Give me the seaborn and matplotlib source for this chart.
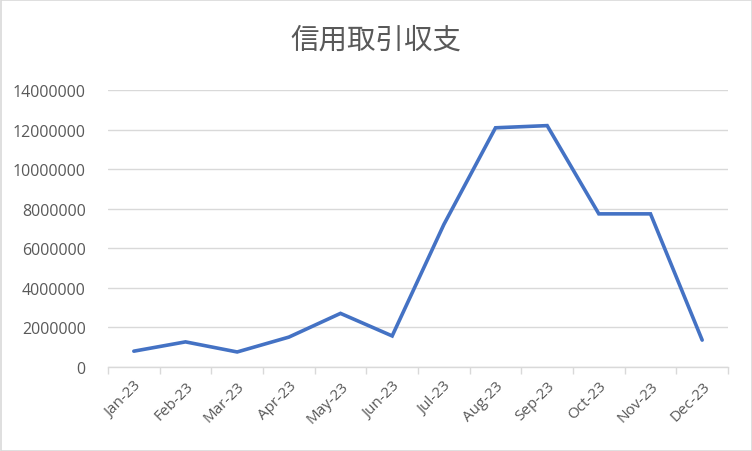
import matplotlib
matplotlib.use("Agg")
import matplotlib.pyplot as plt
import seaborn as sns
import pandas as pd
import numpy as np
from matplotlib.patches import Rectangle
from matplotlib.ticker import FixedLocator

months = ["Jan-23", "Feb-23", "Mar-23", "Apr-23", "May-23", "Jun-23",
          "Jul-23", "Aug-23", "Sep-23", "Oct-23", "Nov-23", "Dec-23"]
values = [800000, 1270000, 760000, 1510000, 2710000, 1570000,
          7200000, 12090000, 12200000, 7740000, 7740000, 1360000]
yticks = [0, 2000000, 4000000, 6000000, 8000000, 10000000, 12000000, 14000000]
title = "信用取引収支"

sns.set_theme(style="white")
plt.rcParams['font.family'] = ['Open Sans', 'Noto Sans CJK JP', 'DejaVu Sans']

df = pd.DataFrame({"idx": np.arange(len(months)), "value": values})

fig = plt.figure(figsize=(7.52, 4.52), dpi=100)
ax = fig.add_axes([108/752, 1-368/452, (728-108)/752, (368-91)/452])

sns.lineplot(data=df, x="idx", y="value", ax=ax, color="#4472C4", linewidth=2.6,
             solid_joinstyle="miter")

ax.set_xlim(-0.5, len(months) - 0.5)
ax.set_ylim(0, 14000000)
ax.set_yticks(yticks)
ax.set_yticklabels([str(v) for v in yticks])
ax.set_xticks(np.arange(len(months)))
ax.set_xticklabels(months, rotation=45, ha="right", rotation_mode="anchor")
ax.xaxis.set_minor_locator(FixedLocator(np.arange(-0.5, len(months), 1.0)))

ax.grid(axis="y", color="#D9D9D9", linewidth=1.0)
ax.set_axisbelow(True)
for s in ["top", "right", "left"]:
    ax.spines[s].set_visible(False)
ax.spines["bottom"].set_color("#D9D9D9")
ax.spines["bottom"].set_linewidth(1.0)

ax.tick_params(axis="x", which="major", length=0, pad=8, labelsize=11, labelcolor="#595959")
ax.tick_params(axis="x", which="minor", length=5, color="#D9D9D9", width=1.0, bottom=True)
ax.tick_params(axis="y", length=0, pad=16, labelsize=11.5, labelcolor="#595959")
ax.set_xlabel("")
ax.set_ylabel("")

fig.text(0.5, 1-41/452, title, ha="center", va="center", fontsize=20.5,
         color="#595959", family=['Noto Sans CJK JP', 'DejaVu Sans'])

fig.patches.append(Rectangle((0.5/752, 0.5/452), 1-1/752, 1-1/452, transform=fig.transFigure,
                             fill=False, edgecolor="#D9D9D9", linewidth=1.2))

fig.savefig("out.png", dpi=100)
